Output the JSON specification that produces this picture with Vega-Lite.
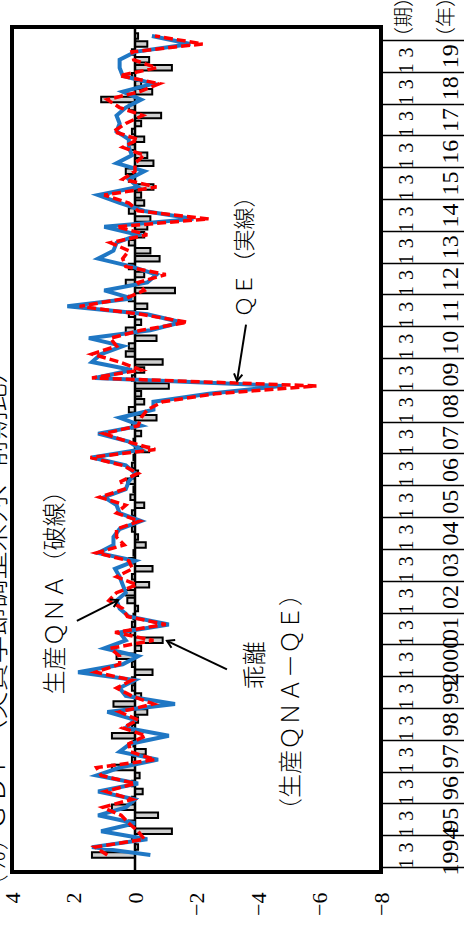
{
  "$schema": "https://vega.github.io/schema/vega-lite/v6.json",
  "width": 369,
  "height": 845,
  "autosize": "none",
  "padding": {"left": 12, "top": 27, "right": 83, "bottom": 65},
  "background": "white",
  "config": {"view": {"stroke": "black", "strokeWidth": 4}},
  "datasets": {
    "gdp": [
      {"t": 1994.375, "qe": -0.5, "diff": 1.4, "qna": 0.9},
      {"t": 1994.625, "qe": 1.4, "diff": -0.1, "qna": 1.3},
      {"t": 1994.875, "qe": -0.4, "diff": 0.1, "qna": -0.3},
      {"t": 1995.125, "qe": 1.1, "diff": -1.2, "qna": -0.1},
      {"t": 1995.375, "qe": 0.0, "diff": 0.2, "qna": 0.2},
      {"t": 1995.625, "qe": 1.2, "diff": -0.75, "qna": 0.45},
      {"t": 1995.875, "qe": 0.3, "diff": 0.75, "qna": 1.05},
      {"t": 1996.125, "qe": 0.0, "diff": 0.1, "qna": 0.1},
      {"t": 1996.375, "qe": 1.2, "diff": -0.25, "qna": 0.95},
      {"t": 1996.625, "qe": -0.1, "diff": 0.1, "qna": 0.0},
      {"t": 1996.875, "qe": 1.25, "diff": -0.15, "qna": 1.1},
      {"t": 1997.125, "qe": 0.5, "diff": 0.75, "qna": 1.25},
      {"t": 1997.375, "qe": -0.75, "diff": 0.1, "qna": -0.65},
      {"t": 1997.625, "qe": 0.5, "diff": -0.35, "qna": 0.15},
      {"t": 1997.875, "qe": 0.15, "diff": 0.05, "qna": 0.2},
      {"t": 1998.125, "qe": -1.1, "diff": 0.75, "qna": -0.35},
      {"t": 1998.375, "qe": 0.3, "diff": 0.1, "qna": 0.4},
      {"t": 1998.625, "qe": 0.0, "diff": -0.1, "qna": -0.1},
      {"t": 1998.875, "qe": 0.9, "diff": -0.4, "qna": 0.5},
      {"t": 1999.125, "qe": -1.3, "diff": 0.7, "qna": -0.6},
      {"t": 1999.375, "qe": 0.3, "diff": -0.2, "qna": 0.1},
      {"t": 1999.625, "qe": 0.5, "diff": 0.1, "qna": 0.6},
      {"t": 1999.875, "qe": 0.0, "diff": 0.1, "qna": 0.1},
      {"t": 2000.125, "qe": 1.85, "diff": -0.57, "qna": 1.28},
      {"t": 2000.375, "qe": 0.4, "diff": 0.1, "qna": 0.5},
      {"t": 2000.625, "qe": -0.1, "diff": 0.6, "qna": 0.5},
      {"t": 2000.875, "qe": 1.0, "diff": -0.2, "qna": 0.8},
      {"t": 2001.125, "qe": 0.3, "diff": -0.9, "qna": -0.6},
      {"t": 2001.375, "qe": 0.5, "diff": 0.15, "qna": 0.65},
      {"t": 2001.625, "qe": -1.1, "diff": 0.1, "qna": -1.0},
      {"t": 2001.875, "qe": 0.2, "diff": 0.05, "qna": 0.25},
      {"t": 2002.125, "qe": 0.5, "diff": -0.1, "qna": 0.4},
      {"t": 2002.375, "qe": 0.6, "diff": 0.25, "qna": 0.85},
      {"t": 2002.625, "qe": 0.3, "diff": 0.3, "qna": 0.6},
      {"t": 2002.875, "qe": 0.4, "diff": -0.46, "qna": -0.06},
      {"t": 2003.125, "qe": 0.5, "diff": 0.1, "qna": 0.6},
      {"t": 2003.375, "qe": 0.65, "diff": -0.57, "qna": 0.08},
      {"t": 2003.625, "qe": 0.0, "diff": 0.2, "qna": 0.2},
      {"t": 2003.875, "qe": 1.2, "diff": 0.05, "qna": 1.25},
      {"t": 2004.125, "qe": 0.7, "diff": -0.35, "qna": 0.35},
      {"t": 2004.375, "qe": 0.7, "diff": -0.1, "qna": 0.6},
      {"t": 2004.625, "qe": 0.5, "diff": 0.1, "qna": 0.6},
      {"t": 2004.875, "qe": -0.2, "diff": 0.05, "qna": -0.15},
      {"t": 2005.125, "qe": 0.5, "diff": 0.1, "qna": 0.6},
      {"t": 2005.375, "qe": 0.6, "diff": -0.3, "qna": 0.3},
      {"t": 2005.625, "qe": 1.0, "diff": 0.15, "qna": 1.15},
      {"t": 2005.875, "qe": 0.3, "diff": 0.05, "qna": 0.35},
      {"t": 2006.125, "qe": 0.2, "diff": 0.25, "qna": 0.45},
      {"t": 2006.375, "qe": 0.0, "diff": -0.1, "qna": -0.1},
      {"t": 2006.625, "qe": 0.3, "diff": 0.1, "qna": 0.4},
      {"t": 2006.875, "qe": 1.4, "diff": 0.05, "qna": 1.45},
      {"t": 2007.125, "qe": -0.2, "diff": -0.46, "qna": -0.66},
      {"t": 2007.375, "qe": 0.2, "diff": 0.05, "qna": 0.25},
      {"t": 2007.625, "qe": 1.2, "diff": -0.2, "qna": 1.0},
      {"t": 2007.875, "qe": -0.2, "diff": 0.1, "qna": -0.1},
      {"t": 2008.125, "qe": 0.5, "diff": -0.7, "qna": -0.2},
      {"t": 2008.375, "qe": -0.6, "diff": 0.2, "qna": -0.4},
      {"t": 2008.625, "qe": -0.6, "diff": -0.3, "qna": -0.9},
      {"t": 2008.875, "qe": -2.4, "diff": -0.2, "qna": -2.6},
      {"t": 2009.125, "qe": -4.8, "diff": -1.1, "qna": -5.9},
      {"t": 2009.375, "qe": 1.3, "diff": 0.1, "qna": 1.4},
      {"t": 2009.625, "qe": 0.1, "diff": -0.3, "qna": -0.2},
      {"t": 2009.875, "qe": 1.4, "diff": -0.9, "qna": 0.5},
      {"t": 2010.125, "qe": 1.1, "diff": 0.3, "qna": 1.4},
      {"t": 2010.375, "qe": 0.4, "diff": 0.2, "qna": 0.6},
      {"t": 2010.625, "qe": 1.5, "diff": -0.7, "qna": 0.8},
      {"t": 2010.875, "qe": -0.5, "diff": 0.3, "qna": -0.2},
      {"t": 2011.125, "qe": -1.5, "diff": -0.2, "qna": -1.7},
      {"t": 2011.375, "qe": -0.4, "diff": 0.2, "qna": -0.2},
      {"t": 2011.625, "qe": 2.2, "diff": -0.4, "qna": 1.8},
      {"t": 2011.875, "qe": 0.1, "diff": 0.2, "qna": 0.3},
      {"t": 2012.125, "qe": 1.0, "diff": -1.3, "qna": -0.3},
      {"t": 2012.375, "qe": -0.4, "diff": 0.3, "qna": -0.1},
      {"t": 2012.625, "qe": -0.7, "diff": -0.3, "qna": -1.0},
      {"t": 2012.875, "qe": 0.1, "diff": 0.2, "qna": 0.3},
      {"t": 2013.125, "qe": 1.2, "diff": -0.8, "qna": 0.4},
      {"t": 2013.375, "qe": 0.7, "diff": -0.5, "qna": 0.2},
      {"t": 2013.625, "qe": 0.6, "diff": 0.2, "qna": 0.8},
      {"t": 2013.875, "qe": -0.1, "diff": -0.3, "qna": -0.4},
      {"t": 2014.125, "qe": 1.0, "diff": -0.4, "qna": 0.6},
      {"t": 2014.375, "qe": -1.9, "diff": -0.5, "qna": -2.4},
      {"t": 2014.625, "qe": -0.3, "diff": 0.2, "qna": -0.1},
      {"t": 2014.875, "qe": 0.5, "diff": -0.3, "qna": 0.2},
      {"t": 2015.125, "qe": 1.2, "diff": -0.2, "qna": 1.0},
      {"t": 2015.375, "qe": -0.1, "diff": -0.6, "qna": -0.7},
      {"t": 2015.625, "qe": 0.2, "diff": 0.2, "qna": 0.4},
      {"t": 2015.875, "qe": -0.3, "diff": 0.3, "qna": 0.0},
      {"t": 2016.125, "qe": 0.6, "diff": -0.6, "qna": 0.0},
      {"t": 2016.375, "qe": 0.1, "diff": -0.4, "qna": -0.3},
      {"t": 2016.625, "qe": 0.2, "diff": 0.2, "qna": 0.4},
      {"t": 2016.875, "qe": 0.2, "diff": -0.3, "qna": -0.1},
      {"t": 2017.125, "qe": 0.6, "diff": 0.1, "qna": 0.7},
      {"t": 2017.375, "qe": 0.5, "diff": -0.2, "qna": 0.3},
      {"t": 2017.625, "qe": 0.6, "diff": -0.85, "qna": -0.25},
      {"t": 2017.875, "qe": 0.3, "diff": 0.2, "qna": 0.5},
      {"t": 2018.125, "qe": -0.2, "diff": 1.1, "qna": 0.9},
      {"t": 2018.375, "qe": 0.4, "diff": -0.56, "qna": -0.16},
      {"t": 2018.625, "qe": -0.6, "diff": -0.2, "qna": -0.8},
      {"t": 2018.875, "qe": 0.4, "diff": 0.1, "qna": 0.5},
      {"t": 2019.125, "qe": 0.5, "diff": -1.2, "qna": -0.7},
      {"t": 2019.375, "qe": 0.5, "diff": -0.46, "qna": 0.04},
      {"t": 2019.625, "qe": 0.0, "diff": 0.1, "qna": 0.1},
      {"t": 2019.875, "qe": -1.8, "diff": -0.4, "qna": -2.2},
      {"t": 2020.125, "qe": -0.55, "diff": -0.1, "qna": -0.65}
    ],
    "one": [{}]
  },
  "resolve": {"scale": {"x": "shared", "y": "shared"}, "axis": {"y": "independent"}},
  "layer": [
    {
      "data": {"name": "gdp"},
      "mark": {"type": "bar", "orient": "horizontal", "height": 5.5, "fill": "#cfcfcf", "stroke": "black", "strokeWidth": 2},
      "encoding": {
        "x": {"field": "diff", "type": "quantitative",
          "scale": {"domain": [-8, 4], "reverse": true, "nice": false, "zero": false},
          "axis": {"values": [-8, -6, -4, -2, 0, 2, 4], "labelAngle": 270, "labelAlign": "right", "labelBaseline": "middle", "ticks": false, "domain": false, "grid": false, "title": null, "labelFont": "Liberation Serif", "labelFontSize": 22, "labelColor": "black", "labelPadding": 20, "labelFlush": false, "labelOverlap": false}},
        "x2": {"datum": 0},
        "y": {"field": "t", "type": "quantitative",
          "scale": {"domain": [1994, 2020.25], "nice": false, "zero": false},
          "axis": {"orient": "right", "values": [1994.125,1994.625,1995.125,1995.625,1996.125,1996.625,1997.125,1997.625,1998.125,1998.625,1999.125,1999.625,2000.125,2000.625,2001.125,2001.625,2002.125,2002.625,2003.125,2003.625,2004.125,2004.625,2005.125,2005.625,2006.125,2006.625,2007.125,2007.625,2008.125,2008.625,2009.125,2009.625,2010.125,2010.625,2011.125,2011.625,2012.125,2012.625,2013.125,2013.625,2014.125,2014.625,2015.125,2015.625,2016.125,2016.625,2017.125,2017.625,2018.125,2018.625,2019.125,2019.625],
            "labelExpr": "(datum.value % 1) < 0.5 ? '1' : '3'",
            "labelAngle": 270, "labelAlign": "center", "labelBaseline": "top", "labelPadding": 15, "ticks": false, "domain": false, "grid": false, "title": null, "labelFont": "Liberation Serif", "labelFontSize": 20, "labelColor": "black", "labelFlush": false, "labelOverlap": false}}
      }
    },
    {
      "data": {"name": "one"},
      "mark": {"type": "rule", "color": "black", "strokeWidth": 2.5},
      "encoding": {"x": {"datum": 0, "type": "quantitative"}}
    },
    {
      "data": {"name": "gdp"},
      "mark": {"type": "line", "color": "#1f77c4", "strokeWidth": 4},
      "encoding": {
        "x": {"field": "qe", "type": "quantitative"},
        "y": {"field": "t", "type": "quantitative",
          "axis": {"orient": "right", "values": [1994,1995,1996,1997,1998,1999,2000,2001,2002,2003,2004,2005,2006,2007,2008,2009,2010,2011,2012,2013,2014,2015,2016,2017,2018,2019,2020],
            "labels": false, "ticks": true, "tickSize": 83, "tickWidth": 1.5, "tickColor": "black", "domain": false, "grid": false, "title": null}},
        "order": {"field": "t"}
      }
    },
    {
      "data": {"name": "gdp"},
      "mark": {"type": "line", "color": "#ff0000", "strokeWidth": 3.5, "strokeDash": [9, 4]},
      "encoding": {
        "x": {"field": "qna", "type": "quantitative"},
        "y": {"field": "t", "type": "quantitative",
          "axis": {"orient": "right", "values": [1994.5,1995.5,1996.5,1997.5,1998.5,1999.5,2000.5,2001.5,2002.5,2003.5,2004.5,2005.5,2006.5,2007.5,2008.5,2009.5,2010.5,2011.5,2012.5,2013.5,2014.5,2015.5,2016.5,2017.5,2018.5,2019.5],
            "labelExpr": "floor(datum.value) == 1994 || floor(datum.value) == 2000 ? toString(floor(datum.value)) : slice(toString(floor(datum.value)), 2)",
            "labelAngle": 270, "labelAlign": "center", "labelBaseline": "top", "labelPadding": 57, "ticks": false, "domain": false, "grid": false, "title": null, "labelFont": "Liberation Serif", "labelFontSize": 24, "labelColor": "black", "labelFlush": false, "labelOverlap": false}},
        "order": {"field": "t"}
      }
    },
    {
      "data": {"name": "one"},
      "mark": {"type": "text", "angle": 270, "font": "Noto Sans CJK JP", "fontWeight": 300, "fontSize": 24, "color": "black", "align": "center", "baseline": "middle"},
      "encoding": {"x": {"datum": 2.57, "type": "quantitative"}, "y": {"datum": 2002.82, "type": "quantitative", "axis": null}, "text": {"value": "生産ＱＮＡ（破線）"}}
    },
    {
      "data": {"name": "one"},
      "mark": {"type": "text", "angle": 270, "font": "Noto Sans CJK JP", "fontWeight": 300, "fontSize": 24, "color": "black", "align": "center", "baseline": "middle"},
      "encoding": {"x": {"datum": -3.93, "type": "quantitative"}, "y": {"datum": 2000.34, "type": "quantitative", "axis": null}, "text": {"value": "乖離"}}
    },
    {
      "data": {"name": "one"},
      "mark": {"type": "text", "angle": 270, "font": "Noto Sans CJK JP", "fontWeight": 300, "fontSize": 24, "color": "black", "align": "center", "baseline": "middle"},
      "encoding": {"x": {"datum": -5.1, "type": "quantitative"}, "y": {"datum": 1999.19, "type": "quantitative", "axis": null}, "text": {"value": "（生産ＱＮＡ－ＱＥ）"}}
    },
    {
      "data": {"name": "one"},
      "mark": {"type": "text", "angle": 270, "font": "Noto Sans CJK JP", "fontWeight": 300, "fontSize": 22, "color": "black", "align": "center", "baseline": "middle"},
      "encoding": {"x": {"datum": -3.58, "type": "quantitative"}, "y": {"datum": 2013.35, "type": "quantitative", "axis": null}, "text": {"value": "ＱＥ（実線）"}}
    },
    {
      "data": {"name": "one"},
      "mark": {"type": "text", "angle": 270, "font": "Noto Sans CJK JP", "fontWeight": 300, "fontSize": 28, "color": "black", "align": "center", "baseline": "middle"},
      "encoding": {"x": {"datum": 4.49, "type": "quantitative"}, "y": {"datum": 2002.6, "type": "quantitative", "axis": null}, "text": {"value": "ＧＤＰ（実質季節調整系列、前期比）"}}
    },
    {
      "data": {"name": "one"},
      "mark": {"type": "text", "angle": 270, "font": "Noto Sans CJK JP", "fontWeight": 300, "fontSize": 24, "color": "black", "align": "center", "baseline": "middle"},
      "encoding": {"x": {"datum": 4.45, "type": "quantitative"}, "y": {"datum": 1994.15, "type": "quantitative", "axis": null}, "text": {"value": "（％）"}}
    },
    {
      "data": {"name": "one"},
      "mark": {"type": "text", "angle": 270, "font": "Noto Sans CJK JP", "fontWeight": 300, "fontSize": 20, "color": "black", "align": "center", "baseline": "middle"},
      "encoding": {"x": {"datum": -8.78, "type": "quantitative"}, "y": {"datum": 2020.72, "type": "quantitative", "axis": null}, "text": {"value": "（期）"}}
    },
    {
      "data": {"name": "one"},
      "mark": {"type": "text", "angle": 270, "font": "Noto Sans CJK JP", "fontWeight": 300, "fontSize": 20, "color": "black", "align": "center", "baseline": "middle"},
      "encoding": {"x": {"datum": -10.15, "type": "quantitative"}, "y": {"datum": 2020.72, "type": "quantitative", "axis": null}, "text": {"value": "（年）"}}
    },
    {
      "data": {"name": "one"},
      "mark": {"type": "rule", "color": "black", "strokeWidth": 2},
      "encoding": {"x": {"datum": 1.89, "type": "quantitative"}, "y": {"datum": 2001.735, "type": "quantitative", "axis": null}, "x2": {"datum": 0.55}, "y2": {"datum": 2002.39}}
    },
    {
      "data": {"name": "one"},
      "mark": {"type": "rule", "color": "black", "strokeWidth": 2},
      "encoding": {"x": {"datum": -2.99, "type": "quantitative"}, "y": {"datum": 2000.21, "type": "quantitative", "axis": null}, "x2": {"datum": -1.04}, "y2": {"datum": 2001.11}}
    },
    {
      "data": {"name": "one"},
      "mark": {"type": "rule", "color": "black", "strokeWidth": 2},
      "encoding": {"x": {"datum": -3.61, "type": "quantitative"}, "y": {"datum": 2011.05, "type": "quantitative", "axis": null}, "x2": {"datum": -3.32}, "y2": {"datum": 2009.28}}
    },
    {
      "data": {"name": "one"},
      "mark": {"type": "point", "shape": "M -0.6 1 L 0 0 L 0.6 1", "filled": false, "stroke": "black", "strokeWidth": 2, "size": 200, "angle": 63, "opacity": 1},
      "encoding": {"x": {"datum": 0.55, "type": "quantitative"}, "y": {"datum": 2002.39, "type": "quantitative", "axis": null}}
    },
    {
      "data": {"name": "one"},
      "mark": {"type": "point", "shape": "M -0.6 1 L 0 0 L 0.6 1", "filled": false, "stroke": "black", "strokeWidth": 2, "size": 200, "angle": -64, "opacity": 1},
      "encoding": {"x": {"datum": -1.04, "type": "quantitative"}, "y": {"datum": 2001.11, "type": "quantitative", "axis": null}}
    },
    {
      "data": {"name": "one"},
      "mark": {"type": "point", "shape": "M -0.6 1 L 0 0 L 0.6 1", "filled": false, "stroke": "black", "strokeWidth": 2, "size": 200, "angle": 189, "opacity": 1},
      "encoding": {"x": {"datum": -3.32, "type": "quantitative"}, "y": {"datum": 2009.28, "type": "quantitative", "axis": null}}
    }
  ]
}
